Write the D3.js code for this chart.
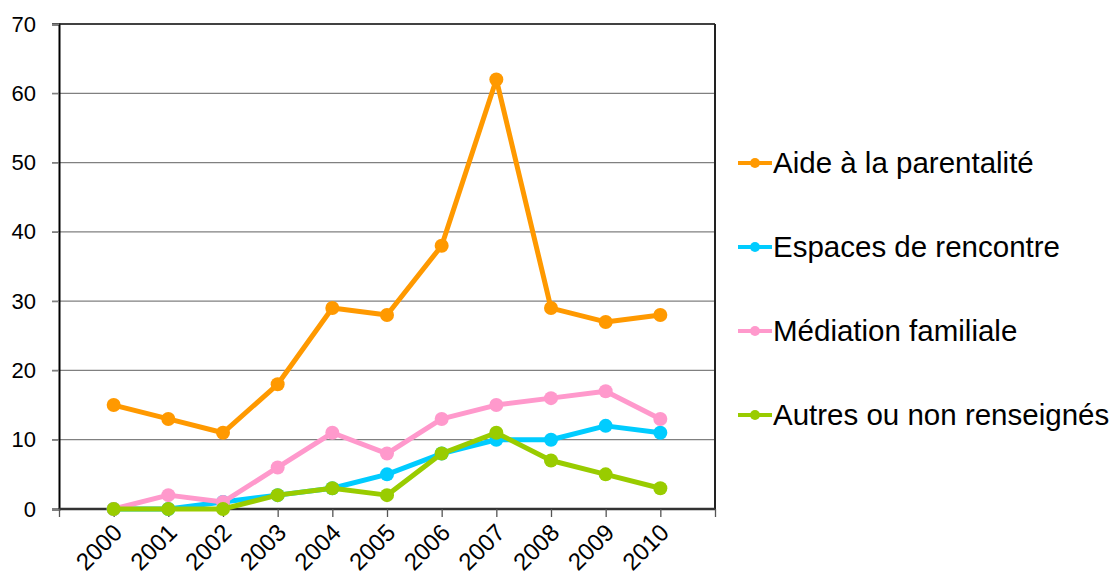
<!DOCTYPE html>
<html><head><meta charset="utf-8">
<script src="https://cdn.jsdelivr.net/npm/d3@7"></script>
<style>body{margin:0;background:#fff}svg{display:block}text{font-family:"Liberation Sans",Arial,sans-serif}</style>
</head><body><svg id="c" width="1112" height="575"></svg>
<script>
const years = ["2000","2001","2002","2003","2004","2005","2006","2007","2008","2009","2010"];
const seriesNames = ["Aide à la parentalité","Espaces de rencontre","Médiation familiale","Autres ou non renseignés"];
const aide = [15,13,11,18,29,28,38,62,29,27,28];
const espaces = [0,0,1,2,3,5,8,10,10,12,11];
const mediation = [0,2,1,6,11,8,13,15,16,17,13];
const autres = [0,0,0,2,3,2,8,11,7,5,3];
const colors = ["#FF9900","#00CCFF","#FF99CC","#99CC00"];
const yTicks = [0,10,20,30,40,50,60,70];

const svg = d3.select("#c");
const L=59,R=715,T=24,B=509;
const x = d3.scaleLinear().domain([-1,11]).range([L,R]);
const y = d3.scaleLinear().domain([0,70]).range([B,T]);

// gridlines
svg.append("g").selectAll("line").data(yTicks.filter(d=>d>0)).join("line")
 .attr("x1",L-7).attr("x2",R).attr("y1",d=>y(d)).attr("y2",d=>y(d))
 .attr("stroke","#808080").attr("stroke-width",1.3);
// y axis
const ya = svg.append("g").attr("transform",`translate(${L},0)`)
 .call(d3.axisLeft(y).tickValues(yTicks).tickSize(7).tickPadding(16));
ya.select(".domain").attr("stroke","#000").attr("stroke-width",2);
ya.selectAll(".tick line").attr("stroke","#808080").attr("stroke-width",1.3);
ya.selectAll("text").attr("font-size",22).attr("fill","#000").attr("font-family","Liberation Sans, Arial, sans-serif");
// right & top border
svg.append("line").attr("x1",R).attr("x2",R).attr("y1",T).attr("y2",B).attr("stroke","#222").attr("stroke-width",2);
svg.append("line").attr("x1",L).attr("x2",R).attr("y1",T).attr("y2",T).attr("stroke","#222").attr("stroke-width",1.5);
// x axis
const xa = svg.append("g").attr("transform",`translate(0,${B})`)
 .call(d3.axisBottom(x).tickValues(d3.range(-1,12)).tickSize(8).tickFormat(""));
xa.select(".domain").attr("stroke","#333").attr("stroke-width",2.5).attr("d",`M${L},0H${R}`);
xa.selectAll(".tick line").attr("stroke","#555").attr("stroke-width",1.3);
svg.append("g").selectAll("text").data(years).join("text")
 .attr("transform",(d,i)=>`translate(${x(i)+10},${B+25}) rotate(-45)`)
 .attr("text-anchor","end").attr("font-size",24).attr("fill","#000").text(d=>d);

const all=[aide,espaces,mediation,autres];
const line=d3.line().x((d,i)=>x(i)).y(d=>y(d));
all.forEach((s,k)=>{
  const g=svg.append("g");
  g.append("path").attr("d",line(s)).attr("fill","none").attr("stroke",colors[k]).attr("stroke-width",5).attr("stroke-linejoin","round");
  g.selectAll("circle").data(s).join("circle").attr("cx",(d,i)=>x(i)).attr("cy",d=>y(d)).attr("r",7).attr("fill",colors[k]);
});

// legend
const lg=svg.append("g");
const ly=[163,247,331,415];
seriesNames.forEach((n,k)=>{
  lg.append("line").attr("x1",738).attr("x2",772).attr("y1",ly[k]).attr("y2",ly[k]).attr("stroke",colors[k]).attr("stroke-width",4);
  lg.append("circle").attr("cx",755).attr("cy",ly[k]).attr("r",5).attr("fill",colors[k]);
  lg.append("text").attr("x",773).attr("y",ly[k]+10).attr("font-size",29.5).attr("fill","#000").text(n);
});
</script></body></html>
